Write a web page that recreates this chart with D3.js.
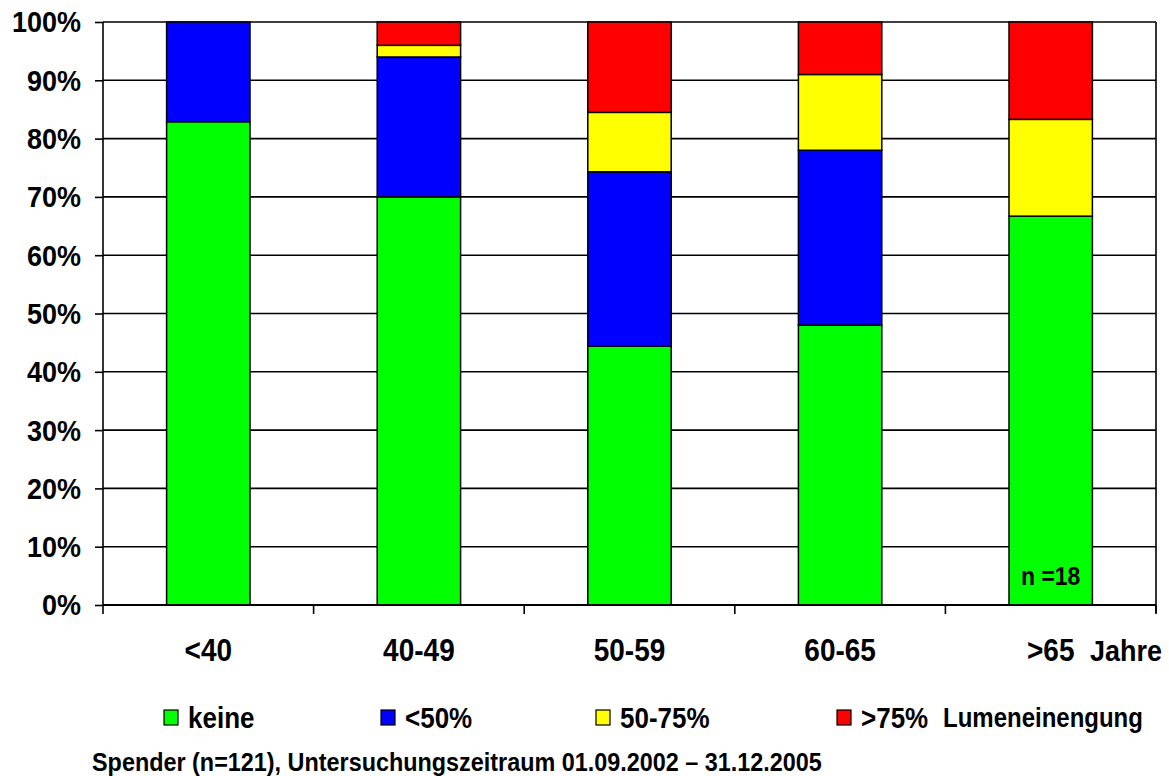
<!DOCTYPE html>
<html>
<head>
<meta charset="utf-8">
<script src="https://cdn.jsdelivr.net/npm/d3@7"></script>
<style>
  html, body { margin: 0; padding: 0; background: #fff; }
  svg { display: block; }
  text { font-family: "Liberation Sans", Arial, sans-serif; font-weight: bold; fill: #000; }
</style>
</head>
<body>
<svg id="chart" width="1169" height="776"></svg>
<script>
// Age groups (Jahre) and share of donors per stenosis grade, in percent
const categories = ["<40", "40-49", "50-59", "60-65", ">65"];
const seriesNames = ["keine", "<50%", "50-75%", ">75%"];
const keine   = [82.9, 70.0, 44.4, 48.0, 66.7];
const lt50    = [17.1, 24.0, 29.9, 30.0, 0.0];
const p50to75 = [0.0, 2.0, 10.2, 13.0, 16.6];
const gt75    = [0.0, 4.0, 15.5, 9.0, 16.7];
const seriesColors = ["#00ff00", "#0000ff", "#ffff00", "#ff0000"];
const yTicks = [0, 10, 20, 30, 40, 50, 60, 70, 80, 90, 100];

const rows = categories.map((c, i) => ({
  cat: c, "keine": keine[i], "<50%": lt50[i], "50-75%": p50to75[i], ">75%": gt75[i]
}));
const stacked = d3.stack().keys(seriesNames)(rows);

const svg = d3.select("#chart");
const plotLeft = 103, plotRight = 1156, plotTop = 22, plotBottom = 605;
const stretchY = 1.12; // glyphs are drawn slightly taller than wide

const x = d3.scaleBand().domain(categories).range([plotLeft, plotRight]).padding(0);
const y = d3.scaleLinear().domain([0, 100]).range([plotBottom, plotTop]);
const barFrac = 0.396;
const barW = x.bandwidth() * barFrac;
const barX = c => x(c) + (x.bandwidth() - barW) / 2;

// place a text element at (tx, ty) with the vertical stretch applied
function placeText(sel, tx, ty) {
  return sel.attr("transform", (d, i) => {
    const px = typeof tx === "function" ? tx(d, i) : tx;
    const py = typeof ty === "function" ? ty(d, i) : ty;
    return `translate(${px},${py}) scale(1,${stretchY})`;
  });
}

// horizontal gridlines
svg.append("g")
  .selectAll("line")
  .data(yTicks.filter(t => t > 0))
  .join("line")
  .attr("x1", plotLeft).attr("x2", plotRight)
  .attr("y1", d => y(d)).attr("y2", d => y(d))
  .attr("stroke", "#000").attr("stroke-width", 1.6);

// right frame line
svg.append("line")
  .attr("x1", plotRight).attr("x2", plotRight)
  .attr("y1", plotTop).attr("y2", plotBottom + 8)
  .attr("stroke", "#000").attr("stroke-width", 1.6);

// stacked bars
svg.append("g")
  .selectAll("g")
  .data(stacked)
  .join("g")
  .attr("fill", (d, i) => seriesColors[i])
  .selectAll("rect")
  .data(d => d.filter(s => s[1] - s[0] > 0))
  .join("rect")
  .attr("x", d => barX(d.data.cat))
  .attr("width", barW)
  .attr("y", d => y(d[1]))
  .attr("height", d => y(d[0]) - y(d[1]))
  .attr("stroke", "#000")
  .attr("stroke-width", 1.5);

// y axis
const yAxis = d3.axisLeft(y)
  .tickValues(yTicks)
  .tickFormat(d => d + "%")
  .tickSize(8)
  .tickPadding(14);
const gy = svg.append("g").attr("transform", `translate(${plotLeft},0)`).call(yAxis);
gy.select(".domain").attr("stroke", "#000").attr("stroke-width", 1.6).attr("d", `M0,${plotTop}V${plotBottom}`);
gy.selectAll(".tick line").attr("stroke", "#000").attr("stroke-width", 1.6);
gy.selectAll(".tick text")
  .style("font-size", "27px").style("font-weight", "bold")
  .attr("font-family", null).attr("fill", "#000")
  .attr("dy", "0.33em")
  .attr("transform", `scale(1,${stretchY})`);

// x axis: ticks at category boundaries
const bounds = categories.map(c => x(c)).concat([plotRight]);
svg.append("line")
  .attr("x1", plotLeft).attr("x2", plotRight)
  .attr("y1", plotBottom).attr("y2", plotBottom)
  .attr("stroke", "#000").attr("stroke-width", 1.8);
svg.append("g")
  .selectAll("line")
  .data(bounds)
  .join("line")
  .attr("x1", d => d).attr("x2", d => d)
  .attr("y1", plotBottom).attr("y2", plotBottom + 9)
  .attr("stroke", "#000").attr("stroke-width", 1.6);

// category labels
placeText(
  svg.append("g")
    .selectAll("text")
    .data(categories)
    .join("text")
    .attr("text-anchor", "middle")
    .style("font-size", "28px")
    .text(d => d),
  d => x(d) + x.bandwidth() / 2, 661);

placeText(svg.append("text").style("font-size", "27px").text("Jahre"), 1090, 661);

// sample size note inside the last bar
placeText(
  svg.append("text")
    .attr("text-anchor", "middle")
    .style("font-size", "23px")
    .text("n =18"),
  barX(">65") + barW / 2, 585);

// legend
const legendX = [164, 381, 596, 837];
const legend = svg.append("g")
  .selectAll("g")
  .data(seriesNames)
  .join("g")
  .attr("transform", (d, i) => `translate(${legendX[i]},710)`);
legend.append("rect")
  .attr("width", 14).attr("height", 15)
  .attr("fill", (d, i) => seriesColors[i])
  .attr("stroke", "#000").attr("stroke-width", 1.2);
placeText(
  legend.append("text")
    .style("font-size", "26px")
    .text(d => d),
  24, 18);

placeText(svg.append("text").style("font-size", "24px").text("Lumeneinengung"), 943, 727);

placeText(
  svg.append("text")
    .style("font-size", "23.4px")
    .text("Spender (n=121), Untersuchungszeitraum 01.09.2002 \u2013 31.12.2005"),
  92, 771);
</script>
</body>
</html>
